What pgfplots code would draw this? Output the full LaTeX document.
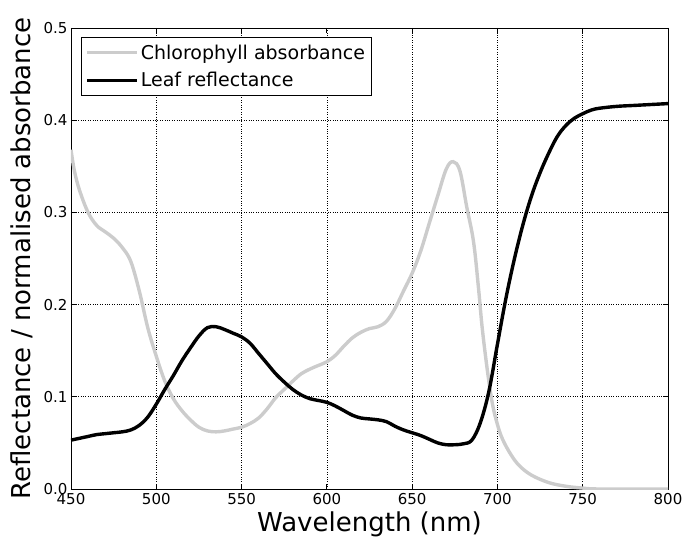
\documentclass[border=0pt]{standalone}
\usepackage{pgfplots}
\pgfplotsset{compat=1.18}
\usepackage{fontspec}
\setmainfont{DejaVu Sans}
\definecolor{chl}{gray}{0.8}
\begin{document}
\begin{tikzpicture}
\begin{axis}[
  scale only axis,
  width=597pt, height=461pt,
  xmin=450, xmax=800, ymin=0, ymax=0.5,
  xtick={450,500,...,800},
  ytick={0,0.1,...,0.5},
  yticklabel style={/pgf/number format/fixed,/pgf/number format/fixed zerofill,/pgf/number format/precision=1},
  /pgf/number format/assume math mode=true,
  tick label style={font=\fontsize{15}{15}\selectfont},
  xticklabel style={yshift=-1pt},
  tick align=inside,
  major tick length=5pt,
  tick style={black, line width=0.8pt},
  axis line style={line width=0.9pt},
  grid=major,
  major grid style={black, dotted, line width=0.7pt},
  xlabel={Wavelength (nm)},
  ylabel={Reflectance / normalised absorbance},
  label style={font=\fontsize{26}{26}\selectfont},
  xlabel style={at={(axis description cs:0.5,-0.076)}, anchor=center},
  ylabel style={at={(axis description cs:-0.082,0.5)}, anchor=center},
  legend style={at={(axis description cs:0.0168,0.98)}, anchor=north west,
    draw=black, line width=0.8pt, font=\fontsize{19}{19}\selectfont,
    inner xsep=4pt, inner ysep=5pt, row sep=8pt},
  legend cell align=left,
  legend image code/.code={\path (0pt,0pt) -- (50pt,0pt); \draw[#1] (5pt,0pt) -- (34pt,0pt);},
]
\addplot[chl, line width=3.4pt, smooth, tension=0.6] coordinates {
(450,0.368) (452,0.345) (455,0.324) (460,0.300) (465,0.286) (470,0.279)
(475,0.272) (480,0.262) (485,0.247) (490,0.215) (495,0.175)
(500,0.144) (505,0.117) (510,0.098) (515,0.085) (520,0.075) (525,0.067)
(530,0.063) (535,0.062) (540,0.063) (545,0.065) (550,0.067) (555,0.071)
(560,0.077) (565,0.087) (570,0.099) (575,0.108) (580,0.117) (585,0.125)
(590,0.130) (595,0.134) (600,0.138) (605,0.145) (610,0.155) (615,0.164)
(620,0.170) (625,0.174) (630,0.176) (635,0.182) (640,0.196) (645,0.215)
(650,0.234) (655,0.258) (660,0.288) (665,0.318) (670,0.347) (674,0.355)
(678,0.345) (682,0.306) (686,0.268) (689,0.216) (691,0.176) (694,0.130)
(697,0.093) (700,0.070) (703,0.054) (708,0.037) (713,0.025) (720,0.015)
(730,0.007) (740,0.003) (750,0.001) (760,0.0) (800,0.0)
};
\addlegendentry{Chlorophyll absorbance}
\addplot[black, line width=3.4pt, smooth, tension=0.6] coordinates {
(450,0.053) (455,0.055) (460,0.057) (465,0.059) (470,0.060) (475,0.061)
(480,0.062) (485,0.064) (490,0.069) (495,0.078) (500,0.092) (505,0.108)
(510,0.123) (515,0.139) (520,0.153) (525,0.166) (530,0.175) (535,0.176)
(540,0.173) (545,0.169) (550,0.165) (555,0.158) (560,0.147) (565,0.136)
(570,0.125) (575,0.116) (580,0.108) (585,0.102) (590,0.098) (595,0.096)
(600,0.094) (605,0.090) (610,0.085) (615,0.080) (620,0.077) (625,0.076)
(630,0.075) (635,0.073) (640,0.068) (645,0.064) (650,0.061) (655,0.058)
(660,0.054) (665,0.050) (670,0.048) (675,0.048) (680,0.049) (685,0.053)
(690,0.072) (695,0.106) (700,0.157) (705,0.207) (710,0.250) (715,0.287)
(720,0.318) (725,0.343) (730,0.364) (735,0.382) (740,0.394) (745,0.402)
(750,0.407) (755,0.411) (760,0.413) (770,0.415) (780,0.416) (790,0.417) (800,0.418)
};
\addlegendentry{Leaf reflectance}
\end{axis}
\pgfresetboundingbox
\path[use as bounding box] (-71pt,-51pt) rectangle (613pt,489pt);
\end{tikzpicture}
\end{document}
